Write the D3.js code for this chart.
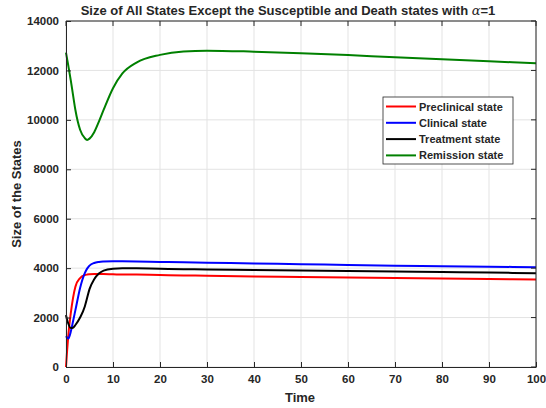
<!DOCTYPE html>
<html>
<head>
<meta charset="utf-8">
<script src="https://cdn.jsdelivr.net/npm/d3@7"></script>
<style>
  body { margin: 0; background: #fff; }
  text { font-family: "Liberation Sans", Arial, sans-serif; font-weight: bold; fill: #262626; }
</style>
</head>
<body>
<svg id="chart" width="546" height="408"></svg>
<script>
// time samples shared by all series
const time = [0, 0.25, 0.5, 1, 1.5, 2, 3, 4, 4.5, 5, 6, 7, 8, 10, 12, 15, 20, 25, 30, 40, 50, 60, 70, 80, 90, 100];

const preclinical = [0, 700, 1300, 2150, 2800, 3250, 3600, 3720, 3740, 3750, 3760, 3760, 3760, 3750, 3745, 3740, 3720, 3705, 3690, 3660, 3640, 3620, 3600, 3580, 3560, 3540];
const clinical = [1250, 1190, 1150, 1420, 1850, 2300, 3200, 3800, 3980, 4100, 4210, 4250, 4265, 4275, 4275, 4270, 4250, 4235, 4220, 4190, 4160, 4130, 4100, 4080, 4060, 4040];
const treatment = [2100, 1900, 1750, 1580, 1590, 1700, 2000, 2450, 2800, 3150, 3550, 3780, 3900, 3980, 4000, 3995, 3975, 3960, 3945, 3925, 3905, 3885, 3865, 3845, 3820, 3795];
const remission = [12720, 12450, 12180, 11620, 11000, 10400, 9600, 9260, 9190, 9240, 9500, 9930, 10400, 11280, 11880, 12320, 12630, 12770, 12800, 12760, 12700, 12620, 12530, 12450, 12370, 12290];

const seriesNames = ["Preclinical state", "Clinical state", "Treatment state", "Remission state"];
const seriesColors = ["#ff0000", "#0000ff", "#000000", "#008000"];

const xTicks = d3.range(0, 101, 10);
const yTicks = d3.range(0, 14001, 2000);

const svg = d3.select("#chart");
const margin = { top: 21, right: 10, bottom: 41, left: 66 };
const width = 546, height = 408;

const x = d3.scaleLinear().domain([0, 100]).range([margin.left, width - margin.right]);
const y = d3.scaleLinear().domain([0, 14000]).range([height - margin.bottom, margin.top]);

// grid
svg.append("g").selectAll("line.vg")
  .data(xTicks).enter().append("line")
  .attr("x1", d => x(d)).attr("x2", d => x(d))
  .attr("y1", y(0)).attr("y2", y(14000))
  .attr("stroke", "#e3e3e3").attr("stroke-width", 1);
svg.append("g").selectAll("line.hg")
  .data(yTicks).enter().append("line")
  .attr("x1", x(0)).attr("x2", x(100))
  .attr("y1", d => y(d)).attr("y2", d => y(d))
  .attr("stroke", "#e3e3e3").attr("stroke-width", 1);

// series lines
const allSeries = [preclinical, clinical, treatment, remission];
const line = d3.line()
  .x((d, i) => x(time[i]))
  .y(d => y(d))
  .curve(d3.curveMonotoneX);

// draw green first so the others sit on top like the original
[3, 0, 1, 2].forEach(k => {
  svg.append("path")
    .datum(allSeries[k])
    .attr("fill", "none")
    .attr("stroke", seriesColors[k])
    .attr("stroke-width", 2)
    .attr("d", line);
});

// axes (MATLAB-style ticks pointing inward)
const xAxis = svg.append("g")
  .attr("transform", `translate(0,${y(0)})`)
  .call(d3.axisBottom(x).tickValues(xTicks).tickSizeInner(-5).tickSizeOuter(0).tickPadding(8));
const yAxis = svg.append("g")
  .attr("transform", `translate(${x(0)},0)`)
  .call(d3.axisLeft(y).tickValues(yTicks).tickSizeInner(-5).tickSizeOuter(0).tickPadding(7).tickFormat(d3.format("d")));

[xAxis, yAxis].forEach(a => {
  a.select(".domain").attr("stroke", "#262626");
  a.selectAll(".tick line").attr("stroke", "#262626");
  a.selectAll(".tick text")
    .attr("fill", "#262626")
    .style("font-size", "11.5px")
    .style("font-weight", "bold")
    .style("font-family", "'Liberation Sans', Arial, sans-serif");
});

// top and right box edges
svg.append("line")
  .attr("x1", x(0)).attr("x2", x(100)).attr("y1", y(14000)).attr("y2", y(14000))
  .attr("stroke", "#262626");
svg.append("line")
  .attr("x1", x(100)).attr("x2", x(100)).attr("y1", y(0)).attr("y2", y(14000))
  .attr("stroke", "#262626");
svg.append("g").selectAll("line")
  .data(xTicks).enter().append("line")
  .attr("x1", d => x(d)).attr("x2", d => x(d))
  .attr("y1", y(14000)).attr("y2", y(14000) + 5)
  .attr("stroke", "#262626");
svg.append("g").selectAll("line")
  .data(yTicks).enter().append("line")
  .attr("x1", x(100)).attr("x2", x(100) - 5)
  .attr("y1", d => y(d)).attr("y2", d => y(d))
  .attr("stroke", "#262626");

// title
const title = svg.append("text")
  .attr("x", 288)
  .attr("y", 15)
  .attr("text-anchor", "middle")
  .style("font-size", "13px")
  .attr("fill", "#000");
title.append("tspan").text("Size of All States Except the Susceptible and Death states with ");
title.append("tspan")
  .style("font-family", "'DejaVu Serif', 'Liberation Serif', serif")
  .style("font-style", "italic")
  .style("font-weight", "normal")
  .text("α");
title.append("tspan").text("=1");

// axis labels
svg.append("text")
  .attr("x", 300)
  .attr("y", 402)
  .attr("text-anchor", "middle")
  .style("font-size", "13px")
  .text("Time");
svg.append("text")
  .attr("transform", `translate(21,194) rotate(-90)`)
  .attr("text-anchor", "middle")
  .style("font-size", "13px")
  .text("Size of the States");

// legend
const legend = svg.append("g").attr("transform", "translate(383,97)");
legend.append("rect")
  .attr("width", 130).attr("height", 67)
  .attr("fill", "#fff")
  .attr("stroke", "#262626").attr("stroke-width", 0.8);
seriesNames.forEach((name, i) => {
  const ly = 9.5 + i * 16.3;
  legend.append("line")
    .attr("x1", 3).attr("x2", 33)
    .attr("y1", ly).attr("y2", ly)
    .attr("stroke", seriesColors[i]).attr("stroke-width", 2);
  legend.append("text")
    .attr("x", 36).attr("y", ly + 4)
    .style("font-size", "11px")
    .attr("fill", "#000")
    .text(name);
});
</script>
</body>
</html>
